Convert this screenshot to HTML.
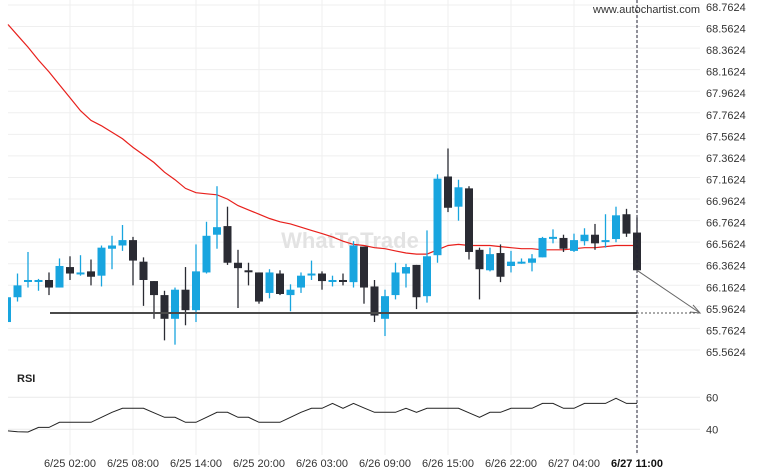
<!DOCTYPE html>
<html><head><meta charset="utf-8"><style>
html,body{margin:0;padding:0;background:#fff;}
svg{display:block;font-family:"Liberation Sans","DejaVu Sans",sans-serif;}
</style></head><body>
<svg id="chart" width="760" height="475" viewBox="0 0 760 475" xmlns="http://www.w3.org/2000/svg">
<g id="grid"></g>
<text x="350" y="248" font-size="22" font-weight="bold" fill="#e3e3e3" text-anchor="middle">WhatToTrade</text>
<g id="ma"></g>
<g id="candles"></g>
<g id="overlay"></g>
<g id="rsi"></g>
<text x="17" y="382" font-size="11" font-weight="bold" fill="#222">RSI</text>
<text x="700" y="13" font-size="11" fill="#333" text-anchor="end">www.autochartist.com</text>
</svg>
<script>
const opens=[65.84,66.07,66.22,66.22,66.23,66.16,66.35,66.29,66.31,66.27,66.52,66.55,66.60,66.40,66.22,66.09,65.87,66.14,65.95,66.30,66.65,66.73,66.39,66.32,66.30,66.11,66.29,66.09,66.16,66.28,66.29,66.22,66.23,66.21,66.54,66.17,65.87,66.09,66.29,66.37,66.08,66.46,67.19,66.91,67.08,66.51,66.32,66.48,66.36,66.40,66.39,66.44,66.62,66.62,66.50,66.59,66.65,66.60,66.61,66.84,66.67];
const highs=[66.07,66.29,66.49,66.24,66.30,66.43,66.45,66.46,66.42,66.55,66.64,66.74,66.63,66.44,66.22,66.13,66.16,66.35,66.56,66.77,67.10,66.91,66.51,66.39,66.30,66.33,66.32,66.19,66.30,66.41,66.31,66.27,66.29,66.59,66.54,66.23,66.14,66.39,66.38,66.37,66.69,67.21,67.45,67.16,67.10,66.53,66.53,66.56,66.50,66.43,66.47,66.63,66.70,66.65,66.66,66.71,66.75,66.84,66.91,66.89,66.81];
const lows=[65.84,66.03,66.16,66.13,66.09,66.16,66.23,66.27,66.18,66.17,66.33,66.50,66.18,65.99,65.87,65.67,65.63,65.81,65.84,66.29,66.52,66.37,65.97,66.18,66.01,66.06,66.09,65.94,66.11,66.23,66.14,66.17,66.18,66.16,66.01,65.84,65.71,66.05,66.16,65.96,66.02,66.39,66.86,66.78,66.42,66.05,66.31,66.21,66.30,66.38,66.31,66.44,66.57,66.49,66.49,66.55,66.51,66.53,66.58,66.63,66.32];
const closes=[66.07,66.18,66.23,66.23,66.16,66.36,66.29,66.30,66.26,66.53,66.55,66.60,66.41,66.23,66.09,65.87,66.14,65.95,66.31,66.64,66.72,66.39,66.34,66.31,66.03,66.30,66.10,66.14,66.27,66.29,66.22,66.23,66.22,66.55,66.16,65.90,66.08,66.30,66.35,66.07,66.45,67.17,66.90,67.09,66.49,66.33,66.47,66.26,66.40,66.40,66.43,66.62,66.63,66.52,66.60,66.65,66.57,66.60,66.83,66.66,66.32];
const maValues=[68.60,68.50,68.39,68.27,68.16,68.04,67.92,67.80,67.71,67.66,67.60,67.54,67.46,67.39,67.32,67.23,67.16,67.08,67.04,67.03,67.02,66.98,66.92,66.88,66.84,66.80,66.77,66.75,66.72,66.69,66.66,66.63,66.59,66.56,66.55,66.53,66.52,66.50,66.48,66.47,66.47,66.51,66.55,66.56,66.55,66.55,66.55,66.54,66.53,66.52,66.52,66.51,66.51,66.51,66.52,66.53,66.53,66.54,66.55,66.55,66.55];
const rsiValues=[39,38.5,38.3,41.2,41.2,44.4,44.4,44.4,44.4,47.5,50.6,53.1,53.1,53.1,50.3,47.5,47.5,44.4,44.4,47.5,50.6,50.6,47.5,47.5,44.4,44.4,44.4,47.5,50.6,53.1,53.1,56.2,53.1,56.2,53.4,50.6,50.6,50.6,53.1,50.6,53.1,53.1,53.1,53.1,50.3,47.5,50.6,50.6,53.1,53.1,53.1,56.2,56.2,53.1,53.1,56.2,56.2,56.2,59.4,56.2,56.2];
const priceTicks=[68.7624,68.5624,68.3624,68.1624,67.9624,67.7624,67.5624,67.3624,67.1624,66.9624,66.7624,66.5624,66.3624,66.1624,65.9624,65.7624,65.5624];
const rsiTicks=[60,40];
const timeLabels=["6/25 02:00","6/25 08:00","6/25 14:00","6/25 20:00","6/26 03:00","6/26 09:00","6/26 15:00","6/26 22:00","6/27 04:00","6/27 11:00"];
const timeIdx=[6,12,18,24,30,36,42,48,54,60];
const supportLevel=65.924;

const NS="http://www.w3.org/2000/svg";
const X=i=>7+10.5*i;
const Y=p=>7+(68.7624-p)*107.8;
const RY=v=>429.3-(v-40)*1.6;
function mk(tag,attrs,parent){const e=document.createElementNS(NS,tag);for(const k in attrs)e.setAttribute(k,attrs[k]);parent.appendChild(e);return e;}
const grid=document.getElementById('grid');
priceTicks.forEach((p,k)=>{
  const l=mk('line',{x1:8,x2:700,y1:Y(p)-2,y2:Y(p)-2,stroke:'#efefef','stroke-width':1},grid);
  
  
  const t=mk('text',{x:706,y:Y(p)+4,'font-size':11,fill:'#333'},grid);
  t.textContent=p.toFixed(4);
  
  
});
timeIdx.forEach((ix,k)=>{
  const x=X(ix);
  const l=mk('line',{x1:x,x2:x,y1:0,y2:455,stroke:'#efefef','stroke-width':1},grid);
  
  
  const last=k===timeLabels.length-1;
  const t=mk('text',{x:x,y:467,'font-size':11,fill:last?'#111':'#333','text-anchor':'middle','font-weight':last?'bold':'normal'},grid);
  t.textContent=timeLabels[k];
  
  
});
// MA
const ma=document.getElementById('ma');
let d=maValues.map((v,i)=>(i?'L':'M')+Math.max(8,X(i)).toFixed(1)+' '+Y(v).toFixed(1)).join(' ');
const mp=mk('path',{d:d,fill:'none',stroke:'#e8201c','stroke-width':1.2},ma);


// candles
const cg=document.getElementById('candles');
const clip=mk('clipPath',{id:'plotclip'},document.getElementById('chart'));
mk('rect',{x:8,y:0,width:700,height:360},clip);
cg.setAttribute('clip-path','url(#plotclip)');
opens.forEach((o,i)=>{
  const c=closes[i],up=c>=o,col=up?'#18a5df':'#2a2b33',x=X(i);
  const w=mk('line',{x1:x,x2:x,y1:Y(highs[i]),y2:Y(lows[i]),stroke:col,'stroke-width':1.3},cg);
  
  
  const top=Y(Math.max(o,c)),h=Math.max(2,Y(Math.min(o,c))-top);
  const b=mk('rect',{x:x-4,y:top,width:8,height:h,fill:col},cg);
  
  
});
// overlay
const ov=document.getElementById('overlay');
const sy=Y(supportLevel);
const lx=X(opens.length-1);
const s1=mk('line',{x1:50,x2:lx,y1:sy,y2:sy,stroke:'#4a4a4a','stroke-width':2},ov);


const s2=mk('line',{x1:lx,x2:700,y1:sy,y2:sy,stroke:'#555','stroke-width':1,'stroke-dasharray':'2,2'},ov);


const vl=mk('line',{x1:lx,x2:lx,y1:0,y2:455,stroke:'#223','stroke-width':1,'stroke-dasharray':'3,2'},ov);


const ay=Y(closes[closes.length-1]);
const ar=mk('line',{x1:lx,y1:ay,x2:700,y2:sy,stroke:'#666','stroke-width':1},ov);


const ah=mk('path',{d:`M690 ${sy-1} L700 ${sy} L693 ${sy-8}`,fill:'none',stroke:'#666','stroke-width':1},ov);


// RSI
const rg=document.getElementById('rsi');
rsiTicks.forEach(v=>{
  const l=mk('line',{x1:8,x2:700,y1:RY(v),y2:RY(v),stroke:'#eaeaea','stroke-width':1},rg);
  
  
  const t=mk('text',{x:706,y:RY(v)+4,'font-size':11,fill:'#333'},rg);
  t.textContent=v;
  
  
});
d=rsiValues.map((v,i)=>(i?'L':'M')+Math.max(8,X(i)).toFixed(1)+' '+RY(v).toFixed(1)).join(' ');
const rp=mk('path',{d:d,fill:'none',stroke:'#222','stroke-width':1},rg);


</script>
</body></html>
